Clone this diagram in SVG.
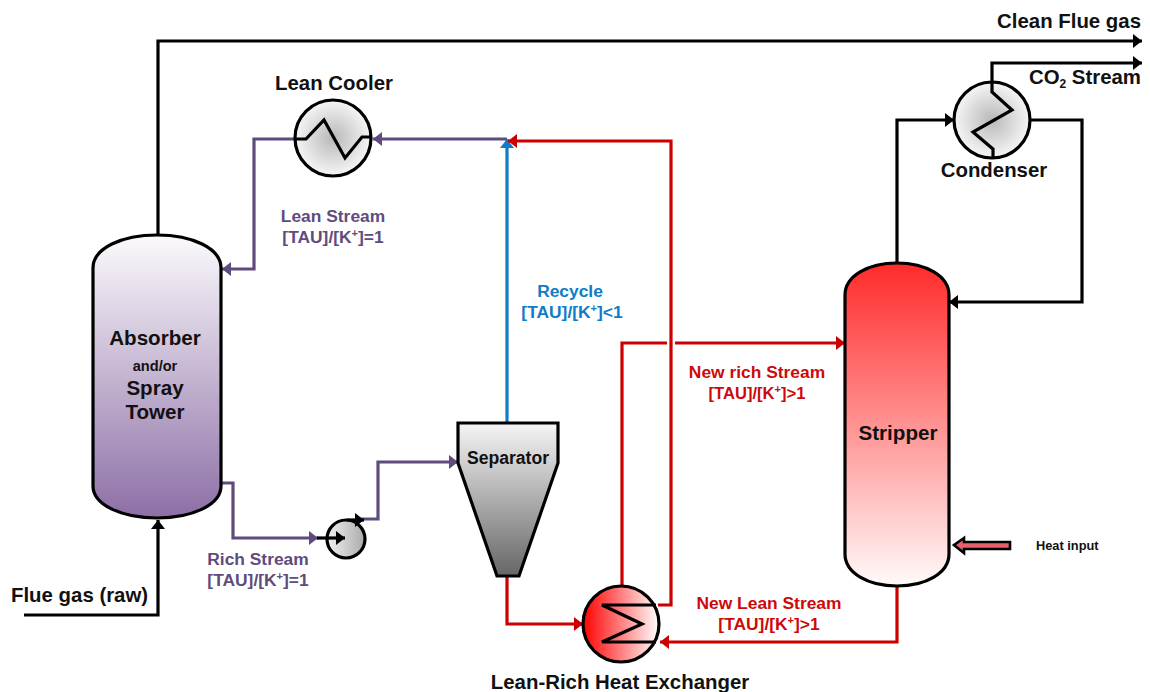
<svg xmlns="http://www.w3.org/2000/svg" width="1150" height="692" viewBox="0 0 1150 692">
<style>
text{font-family:"Liberation Sans",Arial,sans-serif;font-weight:bold;fill:#111}
.m{text-anchor:middle}
.p{fill:#5f4b7d;font-size:17.4px}
.r{fill:#cc0a0a;font-size:17.4px}
.b{fill:#0f7cc8;font-size:17.4px}
.l{font-size:20.4px}
.big{font-size:20.6px}
.s{font-size:11px}
.eq{stroke:#000;stroke-width:3.2}
.c{fill:none;stroke-width:3.2;stroke-linejoin:miter}
.k{stroke:#000}.pu{stroke:#5f4b7d}.re{stroke:#cc0000}.bl{stroke:#0f7cc8}
.coil{fill:none;stroke:#000;stroke-width:3.2}
</style>
<defs>
<linearGradient id="gA" x1="0" y1="0" x2="0" y2="1"><stop offset="0" stop-color="#fbfafc"/><stop offset="1" stop-color="#8d6fa6"/></linearGradient>
<linearGradient id="gS" x1="0" y1="0" x2="0" y2="1"><stop offset="0" stop-color="#ff2a2a"/><stop offset="1" stop-color="#fffafa"/></linearGradient>
<linearGradient id="gP" x1="0" y1="0" x2="0" y2="1"><stop offset="0" stop-color="#f5f5f5"/><stop offset="1" stop-color="#666"/></linearGradient>
<linearGradient id="gH" x1="0" y1="0" x2="1" y2="0"><stop offset="0" stop-color="#ff0000"/><stop offset="1" stop-color="#fff"/></linearGradient>
<radialGradient id="gR"><stop offset="0" stop-color="#b8b8b8"/><stop offset="1" stop-color="#f6f6f6"/></radialGradient>
<linearGradient id="gM" x1="0" y1="0" x2="1" y2="0"><stop offset="0" stop-color="#f2f2f2"/><stop offset="1" stop-color="#aaa"/></linearGradient>
<marker id="ak" markerUnits="userSpaceOnUse" markerWidth="12" markerHeight="16" refX="10" refY="8" orient="auto"><path d="M1 1L10 8L1 15Z" fill="#000"/></marker>
<marker id="ap" markerUnits="userSpaceOnUse" markerWidth="12" markerHeight="16" refX="10" refY="8" orient="auto"><path d="M1 1L10 8L1 15Z" fill="#5f4b7d"/></marker>
<marker id="ar" markerUnits="userSpaceOnUse" markerWidth="12" markerHeight="16" refX="10" refY="8" orient="auto"><path d="M1 1L10 8L1 15Z" fill="#cc0000"/></marker>
<marker id="ab" markerUnits="userSpaceOnUse" markerWidth="12" markerHeight="16" refX="10" refY="8" orient="auto"><path d="M1 1L10 8L1 15Z" fill="#0f7cc8"/></marker>
</defs>
<g id="connectors">
<path class="c k" d="M158 236V41H1142" marker-end="url(#ak)"/>
<path class="c k" d="M24 615H158V520" marker-end="url(#ak)"/>
<path class="c k" d="M992 82V63H1142" marker-end="url(#ak)"/>
<path class="c k" d="M897 264V120H954" marker-end="url(#ak)"/>
<path class="c k" d="M1031 120H1082V302H949" marker-end="url(#ak)"/>
<path class="c pu" d="M507 139H373" marker-end="url(#ap)"/>
<path class="c pu" d="M295 139H254V269H222" marker-end="url(#ap)"/>
<path class="c pu" d="M222 483H233V538H318" marker-end="url(#ap)"/>
<path class="c pu" d="M360 519H378V462H458" marker-end="url(#ap)"/>
<path class="c bl" d="M507 423V139" marker-end="url(#ab)"/>
<path class="c re" d="M622 586V343H667M675 343H845" marker-end="url(#ar)"/>
<path class="c re" d="M658 605H671V141H508" marker-end="url(#ar)"/>
<path class="c re" d="M507 576V624H583" marker-end="url(#ar)"/>
<path class="c re" d="M897 585V642H660" marker-end="url(#ar)"/>
</g>
<g id="absorber"><path class="eq" fill="url(#gA)" d="M93 268C93 248 122 235 157 235C192 235 221 248 221 268V486C221 505 192 518 157 518C122 518 93 505 93 486Z"/>
<text class="m big" x="155" y="345">Absorber</text><text class="m" x="155" y="371" style="font-size:14.6px">and/or</text><text class="m big" x="155" y="395">Spray</text><text class="m big" x="155" y="419">Tower</text></g>
<g id="stripper"><path class="eq" fill="url(#gS)" d="M845 295C845 276 868 263 897 263C926 263 949 276 949 295V554C949 573 926 586 897 586C868 586 845 573 845 554Z"/>
<text class="m big" x="898" y="440">Stripper</text></g>
<g id="lean-cooler"><circle class="eq" cx="333" cy="138" r="38" fill="url(#gR)"/><path class="coil" d="M295 139H306L324 120L345 158L362 137H372"/><text class="m l" x="334" y="90">Lean Cooler</text></g>
<g id="condenser"><circle class="eq" cx="992" cy="120" r="38" fill="url(#gR)"/><path class="coil" d="M992 82V92L1012 110L973 132L993 149V159"/><text class="m l" x="994" y="177">Condenser</text></g>
<g id="pump"><circle class="eq" cx="346" cy="539" r="19" fill="url(#gM)"/><path class="c k" d="M317 538H345" marker-end="url(#ak)"/><path class="c k" d="M347 520H364" marker-end="url(#ak)"/></g>
<g id="separator"><path class="eq" fill="url(#gP)" d="M458 423H558V463L519 576H497L458 463Z"/><text class="m" x="508" y="464" style="font-size:17.6px">Separator</text></g>
<g id="heat-exchanger"><circle class="eq" cx="621" cy="624" r="38" fill="url(#gH)"/><path class="coil" d="M656 605H602L642 624L602 642H656"/><text class="m l" x="620" y="689">Lean-Rich Heat Exchanger</text></g>
<g id="heat-input"><path class="eq" fill="#e8606c" d="M954 545L964 538V542H1010V549H964V553Z" style="stroke-width:2.6"/><text x="1036" y="550" style="font-size:12.8px">Heat input</text></g>
<g id="labels">
<text x="1141" y="28" class="l" text-anchor="end">Clean Flue gas</text>
<text x="1141" y="84" class="l" text-anchor="end">CO<tspan dy="4" style="font-size:12px">2</tspan><tspan dy="-4"> Stream</tspan></text>
<text x="11" y="602" class="l">Flue gas (raw)</text>
<text class="m p" x="333" y="222">Lean Stream</text><text class="m p" x="333" y="243">[TAU]/[K<tspan dy="-6" class="s">+</tspan><tspan dy="6">]=1</tspan></text>
<text class="m p" x="258" y="565">Rich Stream</text><text class="m p" x="258" y="586">[TAU]/[K<tspan dy="-6" class="s">+</tspan><tspan dy="6">]=1</tspan></text>
<text class="m b" x="570" y="297">Recycle</text><text class="m b" x="572" y="318">[TAU]/[K<tspan dy="-6" class="s">+</tspan><tspan dy="6">]&lt;1</tspan></text>
<text class="m r" x="757" y="378">New rich Stream</text><text class="m r" x="757" y="399" style="font-size:16.6px">[TAU]/[K<tspan dy="-6" class="s">+</tspan><tspan dy="6">]&gt;1</tspan></text>
<text class="m r" x="769" y="609">New Lean Stream</text><text class="m r" x="769" y="630">[TAU]/[K<tspan dy="-6" class="s">+</tspan><tspan dy="6">]&gt;1</tspan></text>
</g>
</svg>
